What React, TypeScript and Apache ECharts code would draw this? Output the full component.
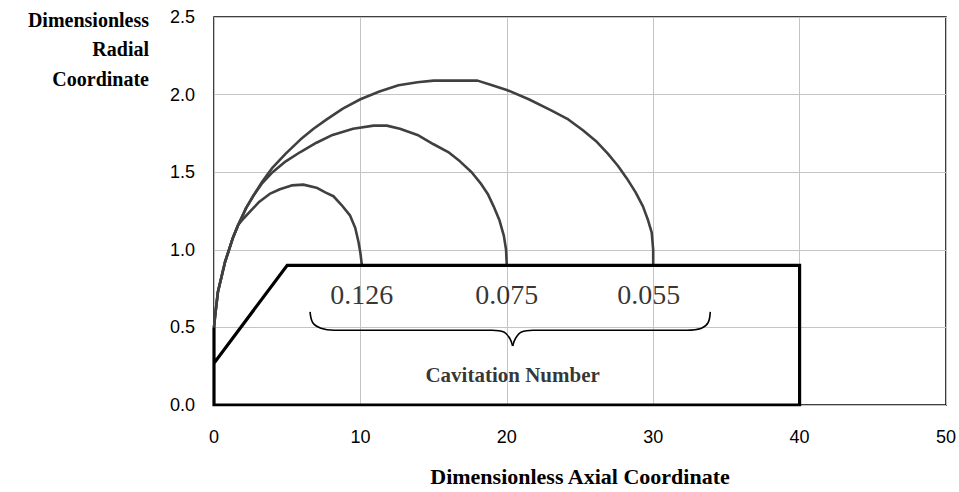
import React, { useEffect, useRef } from "react";
import * as echarts from "echarts";

const xTicks = { min: 0, max: 50, interval: 10 };
const yTicks = { min: 0, max: 2.5, interval: 0.5 };

const cavity0126: [number, number][] = [
  [0, 0.5], [0.07, 0.57], [0.27, 0.73], [0.75, 0.92], [1.3, 1.08], [1.65, 1.16],
  [2.0, 1.2], [2.6, 1.26], [3.1, 1.31], [3.8, 1.36], [4.5, 1.39], [5.3, 1.415],
  [6.1, 1.42], [7.0, 1.4], [7.6, 1.37], [8.16, 1.345], [8.7, 1.29], [9.3, 1.22],
  [9.65, 1.14], [9.87, 1.05], [10.0, 0.98], [10.1, 0.9],
];

const cavity0075: [number, number][] = [
  [0, 0.5], [0.07, 0.57], [0.27, 0.73], [0.75, 0.92], [1.3, 1.08], [1.65, 1.16],
  [2.2, 1.27], [2.7, 1.35], [3.3, 1.43], [4.0, 1.5], [4.9, 1.57], [5.9, 1.63],
  [7.0, 1.69], [8.1, 1.74], [9.5, 1.78], [10.9, 1.8], [11.8, 1.8], [12.7, 1.78],
  [13.9, 1.74], [15.0, 1.68], [16.0, 1.63], [16.8, 1.57], [17.6, 1.5], [18.2, 1.43],
  [18.7, 1.36], [19.1, 1.28], [19.5, 1.19], [19.8, 1.09], [19.95, 1.0], [20.0, 0.9],
];

const cavity0055: [number, number][] = [
  [0, 0.5], [0.07, 0.57], [0.27, 0.73], [0.75, 0.92], [1.3, 1.08], [1.65, 1.16],
  [2.2, 1.27], [2.7, 1.35], [3.3, 1.44], [4.0, 1.53], [4.9, 1.62], [5.9, 1.71],
  [6.8, 1.78], [7.7, 1.84], [8.8, 1.91], [10.0, 1.97], [11.3, 2.02], [12.6, 2.06],
  [13.9, 2.08], [15.0, 2.09], [18.0, 2.09], [19.0, 2.06], [20.0, 2.03], [21.5, 1.97],
  [23.0, 1.9], [24.2, 1.84], [25.2, 1.77], [26.1, 1.7], [26.9, 1.62], [27.6, 1.54],
  [28.2, 1.46], [28.8, 1.37], [29.3, 1.28], [29.65, 1.19], [29.9, 1.11], [30.0, 1.0],
  [30.0, 0.9],
];

const bodyOutline: [number, number][] = [
  [0, 0.5], [0, 0.27], [5, 0.9], [40, 0.9], [40, 0], [0, 0], [0, 0.27],
];

const braceLeft: [number, number][] = [
  [6.56, 0.6], [6.75, 0.53], [7.3, 0.495], [8.2, 0.482], [19.0, 0.482],
  [19.8, 0.47], [20.2, 0.43], [20.4, 0.38],
];
const braceRight: [number, number][] = [
  [20.4, 0.38], [20.6, 0.43], [21.0, 0.47], [21.8, 0.482], [32.3, 0.482],
  [33.3, 0.495], [33.75, 0.53], [33.9, 0.6],
];

const cavitationLabels: [number, number, string][] = [
  [10.1, 0.71, "0.126"],
  [20.0, 0.71, "0.075"],
  [29.7, 0.71, "0.055"],
];
const braceTitle: [number, number, string][] = [[20.4, 0.195, "Cavitation Number"]];

const xAxisTitle = "Dimensionless Axial Coordinate";
const yAxisTitle = "Dimensionless\nRadial\nCoordinate";

const SERIF = "'Liberation Serif', 'Times New Roman', serif";
const SANS = "'Liberation Sans', Arial, sans-serif";

export default function App() {
  const ref = useRef<HTMLDivElement>(null);

  useEffect(() => {
    if (!ref.current) return;
    document.body.style.margin = "0";
    const chart = echarts.init(ref.current, undefined, {
      renderer: "svg",
      width: 959,
      height: 492,
    });
    const curveStyle = { color: "#404040", width: 2.6 };
    chart.setOption({
      animation: false,
      backgroundColor: "#fff",
      grid: {
        left: 214,
        right: 13,
        top: 17,
        bottom: 79,
        show: true,
        borderColor: "#000",
        borderWidth: 1.5,
        backgroundColor: "transparent",
      },
      xAxis: {
        type: "value",
        min: xTicks.min,
        max: xTicks.max,
        interval: xTicks.interval,
        axisLine: { show: false },
        axisTick: { show: false },
        axisLabel: { color: "#000", fontFamily: SANS, fontSize: 18, margin: 23 },
        splitLine: { show: true, lineStyle: { color: "#c4c4c4", width: 1 } },
        name: xAxisTitle,
        nameLocation: "middle",
        nameGap: 60,
        nameTextStyle: { fontFamily: SERIF, fontWeight: "bold", fontSize: 22, color: "#000" },
      },
      yAxis: {
        type: "value",
        min: yTicks.min,
        max: yTicks.max,
        interval: yTicks.interval,
        axisLine: { show: false },
        axisTick: { show: false },
        axisLabel: {
          color: "#000",
          fontFamily: SANS,
          fontSize: 18,
          margin: 19,
          formatter: (v: number) => v.toFixed(1),
        },
        splitLine: { show: true, lineStyle: { color: "#c4c4c4", width: 1 } },
      },
      graphic: [
        {
          type: "text",
          x: 149,
          y: 5,
          style: {
            text: yAxisTitle,
            align: "right",
            verticalAlign: "top",
            fontFamily: SERIF,
            fontWeight: "bold",
            fontSize: 20,
            lineHeight: 29.5,
            fill: "#000",
          },
        },
      ],
      series: [
        { type: "line", data: cavity0126, showSymbol: false, symbol: "none", lineStyle: curveStyle, z: 3 },
        { type: "line", data: cavity0075, showSymbol: false, symbol: "none", lineStyle: curveStyle, z: 3 },
        { type: "line", data: cavity0055, showSymbol: false, symbol: "none", lineStyle: curveStyle, z: 3 },
        {
          type: "line",
          data: bodyOutline,
          showSymbol: false,
          symbol: "none",
          lineStyle: { color: "#000", width: 3.2, join: "miter" },
          z: 5,
        },
        {
          type: "line",
          data: braceLeft,
          smooth: 0.35,
          showSymbol: false,
          symbol: "none",
          lineStyle: { color: "#000", width: 1.6 },
          z: 4,
        },
        {
          type: "line",
          data: braceRight,
          smooth: 0.35,
          showSymbol: false,
          symbol: "none",
          lineStyle: { color: "#000", width: 1.6 },
          z: 4,
        },
        {
          type: "scatter",
          data: cavitationLabels,
          symbolSize: 0,
          z: 6,
          label: {
            show: true,
            position: "inside",
            formatter: (p: any) => p.value[2],
            fontFamily: SERIF,
            fontSize: 28,
            color: "#000",
            textBorderWidth: 0,
          },
        },
        {
          type: "scatter",
          data: braceTitle,
          symbolSize: 0,
          z: 6,
          label: {
            show: true,
            position: "inside",
            formatter: (p: any) => p.value[2],
            fontFamily: SERIF,
            fontWeight: "bold",
            fontSize: 21,
            color: "#000",
            textBorderWidth: 0,
          },
        },
      ],
    });
    return () => chart.dispose();
  }, []);

  return (
    <div
      ref={ref}
      style={{ position: "absolute", left: 0, top: 0, width: 959, height: 492 }}
    />
  );
}
